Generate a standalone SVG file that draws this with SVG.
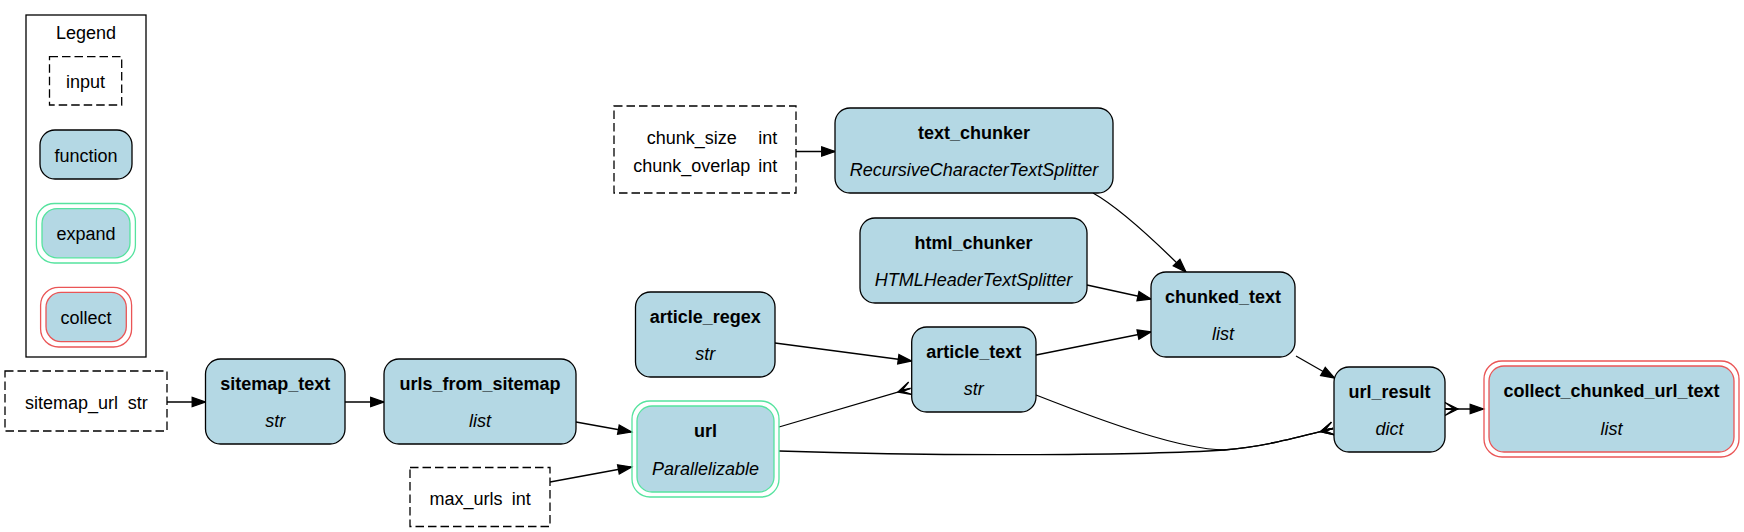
<svg xmlns="http://www.w3.org/2000/svg" width="1744" height="532" viewBox="0 0 1744 532">
<style>
text{font-family:"Liberation Sans",Arial,Helvetica,sans-serif;font-size:18px;fill:#000}
.t{font-weight:bold;text-anchor:middle}
.s{font-style:italic;text-anchor:middle}
.c{text-anchor:middle}
.fn{fill:#b4d8e4;stroke:#000;stroke-width:1.3}
.inp{fill:#fff;stroke:#000;stroke-width:1.3;stroke-dasharray:8.5,4}
.exo{fill:none;stroke:#56E39F;stroke-width:1.3}
.exi{fill:#b4d8e4;stroke:#56E39F;stroke-width:1.3}
.coo{fill:none;stroke:#EA5556;stroke-width:1.3}
.coi{fill:#b4d8e4;stroke:#EA5556;stroke-width:1.3}
.e{fill:none;stroke:#000;stroke-width:1.3}
.a{marker-end:url(#arrow)}
.cr{marker-end:url(#crow)}
</style>
<defs>
<marker id="arrow" markerUnits="userSpaceOnUse" markerWidth="16" markerHeight="12" refX="13.3" refY="4.7" orient="auto" overflow="visible">
<path d="M0,0 L13.3,4.7 L0,9.4 Z" fill="#000" stroke="#000" stroke-width="1.3"/>
</marker>
<marker id="crow" markerUnits="userSpaceOnUse" markerWidth="16" markerHeight="16" refX="13" refY="7" orient="auto-start-reverse" overflow="visible">
<path d="M0,7 L13,0.5 L4.5,6.4 L13,7 L4.5,7.6 L13,13.5 Z" fill="#000" stroke="#000" stroke-width="1.3" stroke-linejoin="miter"/>
</marker>
</defs>
<rect width="1744" height="532" fill="#fff"/>

<g id="legend">
<rect x="26" y="15" width="120" height="342" fill="none" stroke="#000" stroke-width="1.3"/>
<text class="c" x="86" y="39">Legend</text>
<rect class="inp" x="49.5" y="56.7" width="72.2" height="48.3"/>
<text class="c" x="85.6" y="88">input</text>
<rect class="fn" x="40" y="130" width="92" height="49" rx="15"/>
<text class="c" x="86" y="161.5">function</text>
<rect class="exo" x="36.4" y="203.5" width="99" height="59.5" rx="18"/>
<rect class="exi" x="42" y="208.6" width="88" height="49.2" rx="15"/>
<text class="c" x="86" y="240">expand</text>
<rect class="coo" x="40.6" y="287.3" width="91" height="59.7" rx="18"/>
<rect class="coi" x="46" y="292.4" width="80.3" height="49.2" rx="15"/>
<text class="c" x="86" y="324">collect</text>
</g>

<g id="edges">
<path class="e a" d="M167,402 L205.5,402"/>
<path class="e a" d="M345,402 L384,402"/>
<path class="e a" d="M576,422 L631.5,432"/>
<path class="e a" d="M550,482 L631.5,467"/>
<path class="e a" d="M796,151.5 L835,151.5"/>
<path class="e a" d="M1093,193 C1118,207 1150,236 1186,272"/>
<path class="e a" d="M1087,285 L1151,299"/>
<path class="e a" d="M775,343 L911.5,361"/>
<path class="e a" d="M1036,355 L1151,332"/>
<path class="e a" d="M1296,356 L1334.5,378"/>
<path class="e cr" d="M779,427 L910.5,388.3"/>
<path class="e cr" d="M779,451 C950,457 1150,455 1224,450 C1262,447 1295,438 1333,428.5"/>
<path class="e cr" d="M1036,395 C1110,424 1180,449 1224,450 C1262,447 1295,438 1333,428.5"/>
<path class="e a" d="M1445,409 L1483.5,409" marker-start="url(#crow)"/>
</g>

<g id="sitemap_url">
<rect class="inp" x="5" y="371" width="162" height="60"/>
<text x="25" y="408.5">sitemap_url</text>
<text x="127.7" y="408.5">str</text>
</g>

<g id="sitemap_text">
<rect class="fn" x="205.5" y="359" width="139.5" height="85" rx="15"/>
<text class="t" x="275.2" y="389.5">sitemap_text</text>
<text class="s" x="275.2" y="427">str</text>
</g>

<g id="urls_from_sitemap">
<rect class="fn" x="384" y="359" width="192" height="85" rx="15"/>
<text class="t" x="480" y="389.5">urls_from_sitemap</text>
<text class="s" x="480" y="427">list</text>
</g>

<g id="max_urls">
<rect class="inp" x="410" y="467.5" width="140" height="59"/>
<text x="429.4" y="504.5">max_urls</text>
<text x="511.7" y="504.5">int</text>
</g>

<g id="url">
<rect class="exo" x="632" y="401" width="147" height="96" rx="18"/>
<rect class="exi" x="637" y="406" width="137" height="86" rx="15"/>
<text class="t" x="705.5" y="437">url</text>
<text class="s" x="705.5" y="474.5">Parallelizable</text>
</g>

<g id="article_regex">
<rect class="fn" x="635.5" y="292" width="139.5" height="85" rx="15"/>
<text class="t" x="705.2" y="322.5">article_regex</text>
<text class="s" x="705.2" y="360">str</text>
</g>

<g id="chunk_inputs">
<rect class="inp" x="614" y="106" width="182" height="87"/>
<text class="c" x="691.7" y="144">chunk_size</text>
<text x="758.3" y="144">int</text>
<text class="c" x="691.7" y="172">chunk_overlap</text>
<text x="758.3" y="172">int</text>
</g>

<g id="text_chunker">
<rect class="fn" x="835" y="108" width="278" height="85" rx="15"/>
<text class="t" x="974" y="138.5">text_chunker</text>
<text class="s" x="974" y="176">RecursiveCharacterTextSplitter</text>
</g>

<g id="html_chunker">
<rect class="fn" x="860" y="218" width="227" height="85" rx="15"/>
<text class="t" x="973.5" y="248.5">html_chunker</text>
<text class="s" x="973.5" y="286">HTMLHeaderTextSplitter</text>
</g>

<g id="article_text">
<rect class="fn" x="911.7" y="327" width="124.3" height="85" rx="15"/>
<text class="t" x="973.8" y="357.5">article_text</text>
<text class="s" x="973.8" y="395">str</text>
</g>

<g id="chunked_text">
<rect class="fn" x="1151" y="272" width="144" height="85" rx="15"/>
<text class="t" x="1223" y="302.5">chunked_text</text>
<text class="s" x="1223" y="340">list</text>
</g>

<g id="url_result">
<rect class="fn" x="1334" y="367" width="111" height="85" rx="15"/>
<text class="t" x="1389.5" y="397.5">url_result</text>
<text class="s" x="1389.5" y="435">dict</text>
</g>

<g id="collect_chunked_url_text">
<rect class="coo" x="1484" y="361" width="255" height="96" rx="18"/>
<rect class="coi" x="1489" y="366" width="245" height="86" rx="15"/>
<text class="t" x="1611.5" y="397">collect_chunked_url_text</text>
<text class="s" x="1611.5" y="434.5">list</text>
</g>
</svg>
